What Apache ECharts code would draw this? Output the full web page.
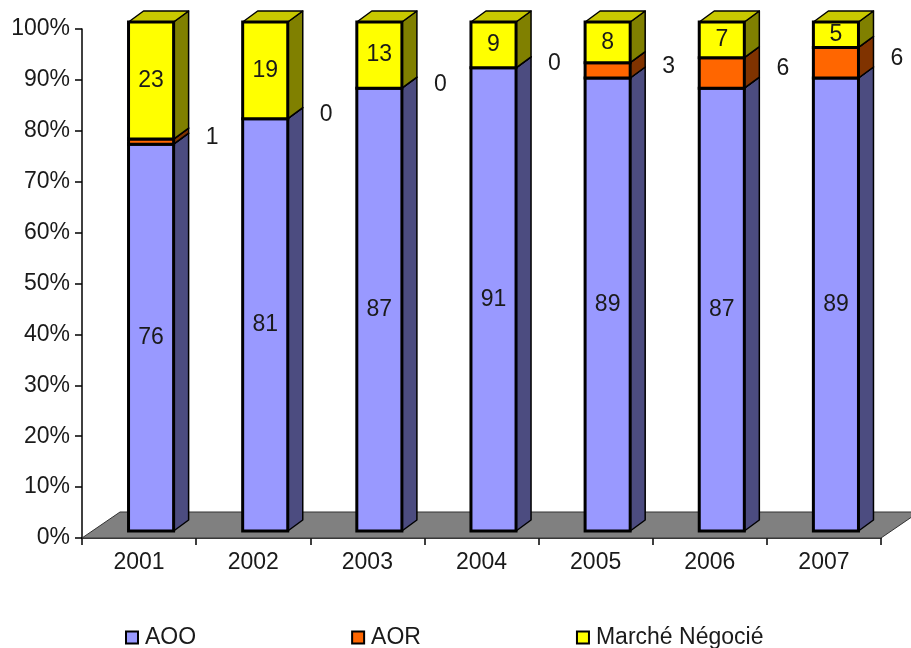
<!DOCTYPE html>
<html>
<head>
<meta charset="utf-8">
<script src="https://cdn.jsdelivr.net/npm/echarts@6/dist/echarts.min.js"></script>
<style>
  html, body { margin: 0; padding: 0; background: #fff; }
  #chart { width: 911px; height: 648px; }
</style>
</head>
<body>
<div id="chart"></div>
<script>
// Répartition des marchés par mode de passation (en %)
const years = ['2001', '2002', '2003', '2004', '2005', '2006', '2007'];
const aoo = [76, 81, 87, 91, 89, 87, 89];
const aor = [1, 0, 0, 0, 3, 6, 6];
const negocie = [23, 19, 13, 9, 8, 7, 5];
const seriesNames = ['AOO', 'AOR', 'Marché Négocié'];

// 3D look: bar front face shift into the floor depth and bar depth
const SHIFT_X = 12, SHIFT_Y = 7;
const DEPTH_X = 15, DEPTH_Y = 11;
const FLOOR_X = 38, FLOOR_Y = 26;
const FONT = 'Liberation Sans, Arial, sans-serif';

const palette = [
  { front: '#9999FF', side: '#4C4C80', top: '#7373BF' },
  { front: '#FF6600', side: '#803300', top: '#BF4C00' },
  { front: '#FFFF00', side: '#808000', top: '#C8C800' }
];

// stacked segments: [category index, lower bound, upper bound, value]
function stackData(level) {
  const layers = [aoo, aor, negocie];
  return years.map((_, i) => {
    let lo = 0;
    for (let k = 0; k < level; k++) lo += layers[k][i];
    const v = layers[level][i];
    return [i, lo, lo + v, v];
  });
}

function makeRender(level) {
  const col = palette[level];
  return function (params, api) {
    const i = api.value(0), lo = api.value(1), hi = api.value(2), v = api.value(3);
    const band = api.size([1, 0])[0];
    const w = band * 0.395;
    const pLo = api.coord([i, lo]);
    const pHi = api.coord([i, hi]);
    const cx = pLo[0] + SHIFT_X;
    const y0 = pLo[1] - SHIFT_Y;
    const y1 = pHi[1] - SHIFT_Y;
    const x0 = cx - w / 2, x1 = cx + w / 2;
    const children = [];
    if (hi - lo > 0) {
      children.push({
        type: 'polygon',
        shape: { points: [[x1, y0], [x1 + DEPTH_X, y0 - DEPTH_Y], [x1 + DEPTH_X, y1 - DEPTH_Y], [x1, y1]] },
        style: { fill: col.side, stroke: '#000', lineWidth: 1.5, lineJoin: 'round' }
      });
      children.push({
        type: 'polygon',
        shape: { points: [[x0, y1], [x1, y1], [x1 + DEPTH_X, y1 - DEPTH_Y], [x0 + DEPTH_X, y1 - DEPTH_Y]] },
        style: { fill: col.top, stroke: '#000', lineWidth: 1.5, lineJoin: 'round' }
      });
      children.push({
        type: 'rect',
        shape: { x: x0, y: y1, width: w, height: y0 - y1 },
        style: { fill: col.front, stroke: '#000', lineWidth: 3 }
      });
    }
    const ym = (y0 + y1) / 2;
    const outside = level === 1;
    children.push({
      type: 'text',
      z2: 10,
      style: {
        text: String(v),
        x: outside ? cx + 61 : cx,
        y: outside ? ym - 4 : ym,
        align: 'center',
        verticalAlign: 'middle',
        font: '23px ' + FONT,
        fill: '#1a1a1a'
      }
    });
    return { type: 'group', children: children };
  };
}

function renderFloor(params, api) {
  const cs = params.coordSys;
  const yb = cs.y + cs.height;
  return {
    type: 'polygon',
    shape: {
      points: [
        [cs.x, yb],
        [cs.x + cs.width, yb],
        [cs.x + cs.width + FLOOR_X, yb - FLOOR_Y],
        [cs.x + FLOOR_X, yb - FLOOR_Y]
      ]
    },
    style: { fill: '#808080', stroke: '#333', lineWidth: 1 }
  };
}

const chart = echarts.init(document.getElementById('chart'), null, { renderer: 'canvas' });

const series = [{
  type: 'custom',
  name: 'floor',
  renderItem: renderFloor,
  data: [[0, 0]],
  z: 1,
  silent: true
}];
seriesNames.forEach((name, level) => {
  series.push({
    type: 'custom',
    name: name,
    renderItem: makeRender(level),
    data: stackData(level),
    encode: { x: 0, y: [1, 2] },
    itemStyle: { color: palette[level].front, borderColor: '#000', borderWidth: 2 },
    z: 2 + level,
    clip: false
  });
});

chart.setOption({
  animation: false,
  backgroundColor: '#fff',
  grid: { left: 82, right: 30, top: 29, bottom: 110, containLabel: false },
  xAxis: {
    type: 'category',
    data: years,
    axisLine: { lineStyle: { color: '#000', width: 1.5 } },
    axisTick: { show: true, length: 7, lineStyle: { color: '#000', width: 1.5 } },
    axisLabel: { fontSize: 23, fontFamily: FONT, color: '#1a1a1a', margin: 13 },
    splitLine: { show: false }
  },
  yAxis: {
    type: 'value',
    min: 0,
    max: 100,
    interval: 10,
    axisLine: { show: true, lineStyle: { color: '#000', width: 1.5 } },
    axisTick: { show: true, length: 7, lineStyle: { color: '#000', width: 1.5 } },
    axisLabel: { formatter: '{value}%', fontSize: 23, fontFamily: FONT, color: '#1a1a1a', margin: 12 },
    splitLine: { show: false }
  },
  legend: {
    data: seriesNames,
    left: 120,
    top: 621,
    itemGap: 155,
    itemWidth: 12,
    itemHeight: 12,
    icon: 'rect',
    itemStyle: { borderColor: '#000', borderWidth: 2 },
    textStyle: { fontSize: 23, fontFamily: FONT, color: '#1a1a1a', padding: [0, 0, 0, 2] },
    selectedMode: false
  },
  series: series
});
</script>
</body>
</html>
